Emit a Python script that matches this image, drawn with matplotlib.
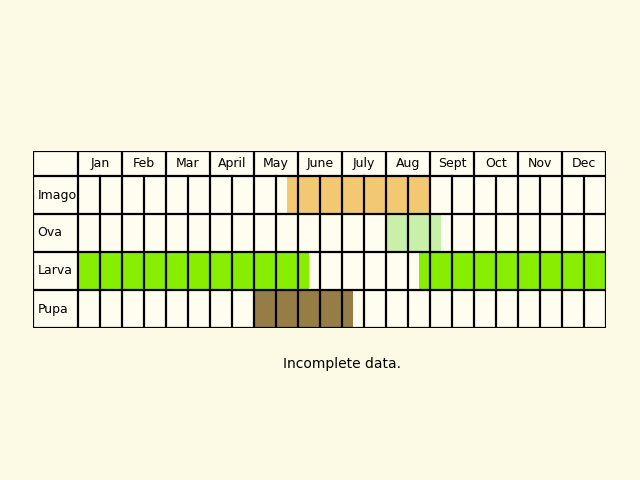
import matplotlib.pyplot as plt
from matplotlib.patches import Rectangle

months = ['Jan', 'Feb', 'Mar', 'April', 'May', 'June', 'July', 'Aug',
          'Sept', 'Oct', 'Nov', 'Dec']
stages = ['Imago', 'Ova', 'Larva', 'Pupa']
# spans in half-month units (start, end)
spans = {
    'Imago': [(9.5, 16)],
    'Ova': [(14, 16.5)],
    'Larva': [(0, 10.5), (15.5, 24)],
    'Pupa': [(8, 12.5)],
}
colors = {'Imago': '#f2c972', 'Ova': '#c8f0a8', 'Larva': '#88ee00', 'Pupa': '#967d46'}

bg = '#fcf9e4'
cell = '#fffdf0'
label_w = 45 / 22
head_h = 25 / 38

fig = plt.figure(figsize=(6.4, 4.8), dpi=100, facecolor=bg)
ax = fig.add_axes([33 / 640, 152 / 480, 573 / 640, 177 / 480])
ax.set_xlim(-label_w, 24)
ax.set_ylim(len(stages) + head_h, 0)
ax.axis('off')

ax.add_patch(Rectangle((-label_w, 0), 24 + label_w, len(stages) + head_h,
                       facecolor=cell, edgecolor='none'))
for i, st in enumerate(stages):
    y0 = head_h + i
    for a, b in spans[st]:
        ax.add_patch(Rectangle((a, y0), b - a, 1, facecolor=colors[st], edgecolor='none'))
    ax.text(-label_w + 0.2, y0 + 0.5, st, ha='left', va='center', fontsize=9)

for j, m in enumerate(months):
    ax.text(2 * j + 1, head_h / 2, m, ha='center', va='center', fontsize=9)

lw = 1.6
ytop, ybot = 0, len(stages) + head_h
for y in [0, head_h] + [head_h + i + 1 for i in range(len(stages))]:
    ax.plot([-label_w, 24], [y, y], color='black', lw=lw)
ax.plot([-label_w, -label_w], [ytop, ybot], color='black', lw=lw)
for x in range(25):
    if x % 2 == 0:
        ax.plot([x, x], [ytop, ybot], color='black', lw=lw)
    else:
        ax.plot([x, x], [head_h, ybot], color='black', lw=lw)

fig.text(342 / 640, 1 - 364 / 480, 'Incomplete data.', ha='center', va='center', fontsize=10)
fig.savefig('out.png', dpi=100, facecolor=bg)
